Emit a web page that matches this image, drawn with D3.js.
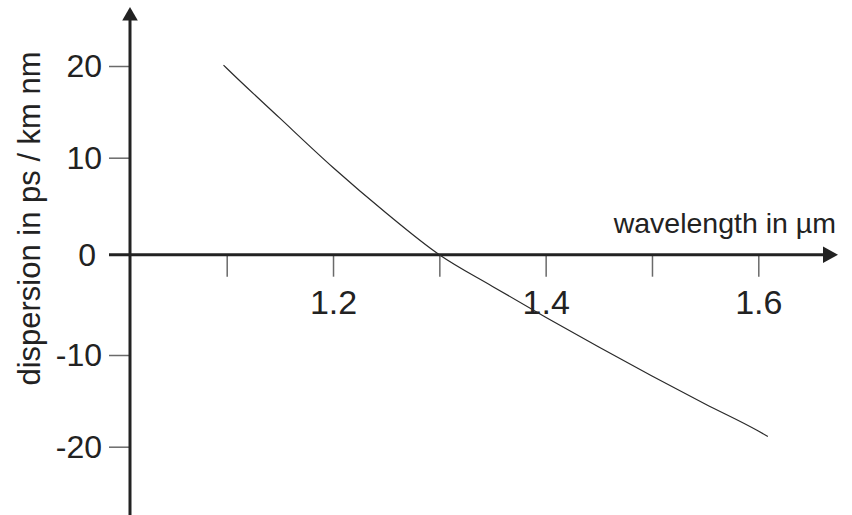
<!DOCTYPE html>
<html>
<head>
<meta charset="utf-8">
<script src="https://cdn.jsdelivr.net/npm/d3@7"></script>
<style>
  html, body { margin: 0; padding: 0; background: #fff; }
  svg { display: block; }
  text { font-family: "Liberation Sans", Arial, sans-serif; fill: #222; }
</style>
</head>
<body>
<svg id="chart" width="852" height="515"></svg>
<script>
// Chromatic dispersion of a standard single-mode fibre vs wavelength
const wavelength = [1.097, 1.10, 1.15, 1.20, 1.25, 1.30, 1.35, 1.40, 1.45, 1.50, 1.55, 1.60, 1.609];
const dispersion = [20.1, 19.76, 14.31, 8.99, 4.30, 0.0, -3.16, -6.23, -9.20, -12.29, -15.34, -18.29, -18.89];

const xTicks = [1.1, 1.2, 1.3, 1.4, 1.5, 1.6];
const xTickLabels = ["", "1.2", "", "1.4", "", "1.6"];
const yTicks = [-20, -10, 0, 10, 20];
const yTickLabels = ["-20", "-10", "0", "10", "20"];

const xTitle = "wavelength in µm";
const yTitle = "dispersion in ps / km nm";

const svg = d3.select("#chart");
const W = 852, H = 515;

const x = d3.scaleLinear().domain([1.1, 1.6]).range([226.7, 758.3]);
// hand-spaced vertical scale: one segment per decade of ps/(km nm)
const y = d3.scaleLinear().domain(yTicks).range([446.7, 355, 254.7, 157.7, 66]);

const axisColor = "#222";
const tickColor = "#6a6a6a";
const yAxisX = 130;
const xAxisY = y(0);

// x axis ticks and labels
const gx = svg.append("g")
  .attr("transform", `translate(0,${xAxisY})`)
  .call(d3.axisBottom(x)
    .tickValues(xTicks)
    .tickSize(22)
    .tickPadding(13)
    .tickFormat((d, i) => xTickLabels[i]));
gx.select(".domain").remove();
gx.selectAll(".tick line").attr("stroke", tickColor).attr("stroke-width", 1.5);
gx.selectAll(".tick text")
  .attr("font-family", "Liberation Sans, Arial, sans-serif")
  .attr("font-size", 34)
  .attr("fill", "#222");

// y axis ticks and labels
const gy = svg.append("g")
  .attr("transform", `translate(${yAxisX},0)`)
  .call(d3.axisLeft(y)
    .tickValues(yTicks)
    .tickSize(21)
    .tickPadding(7)
    .tickFormat((d, i) => yTickLabels[i]));
gy.select(".domain").remove();
gy.selectAll(".tick line").attr("stroke", tickColor).attr("stroke-width", 1.5);
gy.selectAll(".tick text")
  .attr("font-family", "Liberation Sans, Arial, sans-serif")
  .attr("font-size", 32)
  .attr("fill", "#222")
  .attr("dy", "0.34em")
  .attr("x", d => d === 0 ? -34 : -28);

// main axes with arrow heads
const xStart = 109, xTip = 838, xHead = 15, xHalf = 8.3;
svg.append("line")
  .attr("x1", xStart).attr("x2", xTip - xHead + 1)
  .attr("y1", xAxisY).attr("y2", xAxisY)
  .attr("stroke", axisColor).attr("stroke-width", 3);
svg.append("path")
  .attr("d", `M${xTip},${xAxisY} L${xTip - xHead},${xAxisY - xHalf} L${xTip - xHead},${xAxisY + xHalf} Z`)
  .attr("fill", axisColor);

const yTip = 7, yHead = 13.5, yHalf = 7.8;
svg.append("line")
  .attr("x1", yAxisX).attr("x2", yAxisX)
  .attr("y1", H).attr("y2", yTip + yHead - 1)
  .attr("stroke", axisColor).attr("stroke-width", 3);
svg.append("path")
  .attr("d", `M${yAxisX},${yTip} L${yAxisX - yHalf},${yTip + yHead} L${yAxisX + yHalf},${yTip + yHead} Z`)
  .attr("fill", axisColor);

// dispersion curve
const pts = wavelength.map((w, i) => [w, dispersion[i]]);
svg.append("path")
  .datum(pts)
  .attr("fill", "none")
  .attr("stroke", "#2a2a2a")
  .attr("stroke-width", 1.2)
  .attr("d", d3.line()
    .x(d => x(d[0]))
    .y(d => y(d[1]))
    .curve(d3.curveMonotoneX));

// axis titles
svg.append("text")
  .attr("x", 836).attr("y", 233)
  .attr("text-anchor", "end")
  .attr("font-size", 28.5)
  .text(xTitle);

svg.append("text")
  .attr("transform", "translate(40,218.5) rotate(-90)")
  .attr("text-anchor", "middle")
  .attr("font-size", 31)
  .text(yTitle);
</script>
</body>
</html>
